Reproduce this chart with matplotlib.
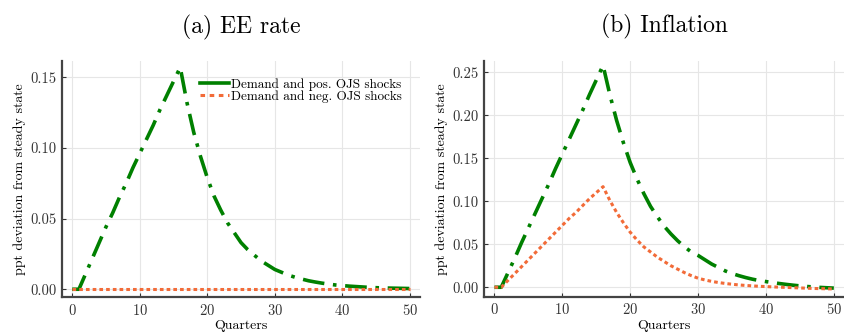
import numpy as np
import matplotlib.pyplot as plt
from matplotlib.lines import Line2D

plt.rcParams['font.family'] = ['cmr10', 'DejaVu Serif']
plt.rcParams['axes.formatter.use_mathtext'] = True
plt.rcParams['mathtext.fontset'] = 'cm'

quarters = list(range(51))

# EE rate responses
ee_pos = [0.0, 0.0, 0.011, 0.022, 0.033, 0.044, 0.054, 0.065, 0.075, 0.086,
          0.096, 0.106, 0.116, 0.127, 0.137, 0.147, 0.157, 0.132, 0.111, 0.094,
          0.079, 0.066, 0.056, 0.047, 0.040, 0.033, 0.028, 0.024, 0.020, 0.017,
          0.014, 0.012, 0.010, 0.0085, 0.0072, 0.006, 0.0051, 0.0043, 0.0036, 0.003,
          0.0026, 0.0022, 0.0019, 0.0016, 0.0013, 0.0011, 0.0009, 0.0008, 0.0007, 0.0006,
          0.0005]
ee_neg = [0.0] * 51

# Inflation responses
infl_pos = [0.0, 0.0, 0.017, 0.034, 0.052, 0.069, 0.086, 0.103, 0.120, 0.138,
            0.155, 0.172, 0.189, 0.206, 0.224, 0.241, 0.258, 0.224, 0.194, 0.168,
            0.145, 0.126, 0.109, 0.094, 0.082, 0.071, 0.062, 0.054, 0.047, 0.041,
            0.037, 0.032, 0.027, 0.023, 0.019, 0.016, 0.0135, 0.0113, 0.0094, 0.0078,
            0.0066, 0.0054, 0.0043, 0.0033, 0.0024, 0.0016, 0.0009, 0.0003, -0.0002, -0.0006,
            -0.001]
infl_neg = [0.0, 0.0, 0.008, 0.016, 0.024, 0.032, 0.040, 0.048, 0.056, 0.064,
            0.072, 0.080, 0.087, 0.095, 0.103, 0.110, 0.117, 0.101, 0.087, 0.075,
            0.064, 0.055, 0.047, 0.041, 0.035, 0.030, 0.025, 0.021, 0.017, 0.0135,
            0.0105, 0.0085, 0.0068, 0.0055, 0.0044, 0.0035, 0.0027, 0.0021, 0.0016, 0.0011,
            0.0008, 0.0004, 0.0001, -0.0002, -0.0005, -0.0008, -0.0011, -0.0014, -0.0016, -0.0018,
            -0.002]

GREEN = '#008000'
ORANGE = '#f26b38'
green_ls = (0, (6, 2.4, 1, 2.4))
orange_ls = (0, (1.2, 1.0))

fig = plt.figure(figsize=(8.44, 3.35), dpi=100)
ax1 = fig.add_axes([0.0735, 0.1134, 0.4241, 0.7046])
ax2 = fig.add_axes([0.5738, 0.1143, 0.4262, 0.7045])


def style_axis(ax, title, yticks, ylim):
    ax.set_xlim(-1.5, 51.5)
    ax.set_ylim(*ylim)
    ax.set_xticks([0, 10, 20, 30, 40, 50])
    ax.set_yticks(yticks)
    ax.yaxis.set_major_formatter(plt.FormatStrFormatter('%.2f'))
    ax.grid(True, color='#e6e6e6', linewidth=0.8)
    ax.set_axisbelow(True)
    for s in ['top', 'right']:
        ax.spines[s].set_visible(False)
    for s in ['left', 'bottom']:
        ax.spines[s].set_linewidth(1.6)
        ax.spines[s].set_color('#444444')
    ax.tick_params(direction='in', length=3, width=0.8, labelsize=10.5, colors='#333333', pad=4)
    ax.set_xlabel('Quarters', fontsize=10, labelpad=2)
    ax.set_ylabel('ppt deviation from steady state', fontsize=10, labelpad=3)
    ax.set_title(title, fontsize=17, pad=20)


ax1.plot(quarters, ee_pos, color=GREEN, lw=2.6, ls=green_ls)
ax1.plot(quarters, ee_neg, color=ORANGE, lw=2.2, ls=orange_ls)
style_axis(ax1, '(a) EE rate', [0.0, 0.05, 0.10, 0.15], (-0.0055, 0.1615))

ax2.plot(quarters, infl_pos, color=GREEN, lw=2.6, ls=green_ls)
ax2.plot(quarters, infl_neg, color=ORANGE, lw=2.2, ls=orange_ls)
style_axis(ax2, '(b) Inflation', [0.0, 0.05, 0.10, 0.15, 0.20, 0.25], (-0.011, 0.2635))

handles = [Line2D([], [], color=GREEN, lw=2.6),
           Line2D([], [], color=ORANGE, lw=2.2, ls=(0, (1.5, 1.5)))]
ax1.legend(handles, ['Demand and pos. OJS shocks', 'Demand and neg. OJS shocks'],
           loc='upper left', bbox_to_anchor=(0.385, 0.928), frameon=False, fontsize=9.5,
           handlelength=2.2, handletextpad=0.15, labelspacing=-0.05, borderaxespad=0.0,
           borderpad=0.0)

fig.savefig('out.png', dpi=100)
